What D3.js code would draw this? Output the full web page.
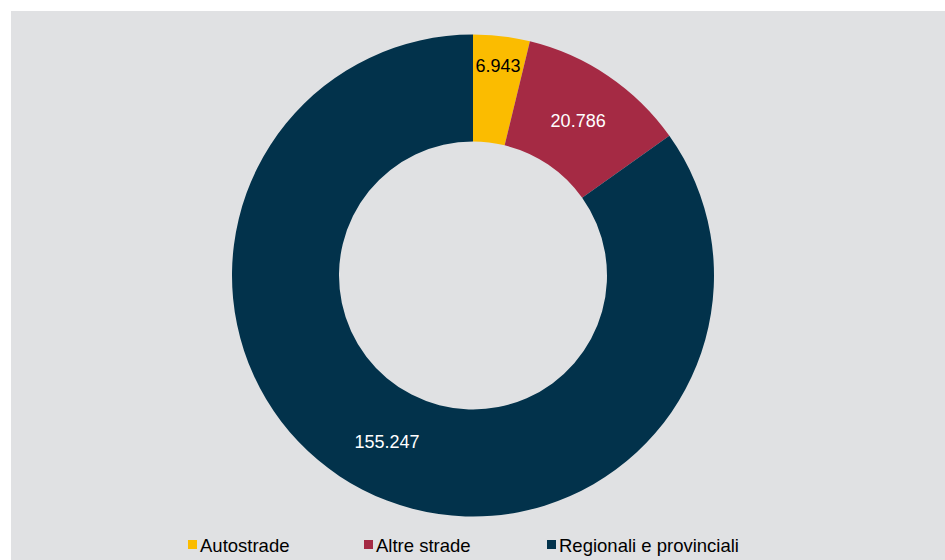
<!DOCTYPE html>
<html>
<head>
<meta charset="utf-8">
<script src="https://cdn.jsdelivr.net/npm/d3@7"></script>
<style>
  body { margin: 0; background: #ffffff; }
  svg { display: block; font-family: "Liberation Sans", Arial, sans-serif; }
</style>
</head>
<body>
<div id="chart"></div>
<script>
// chart data
const categories = ["Autostrade", "Altre strade", "Regionali e provinciali"];
const values = [6.943, 20.786, 155.247];
const valueLabels = ["6.943", "20.786", "155.247"];
const colors = ["#fbbc00", "#a52a44", "#02324b"];
const labelColors = ["#000000", "#ffffff", "#ffffff"];

const width = 945, height = 560;

const svg = d3.select("#chart")
  .append("svg")
  .attr("width", width)
  .attr("height", height);

// gray plot background
svg.append("rect")
  .attr("x", 11)
  .attr("y", 11)
  .attr("width", width - 11)
  .attr("height", height - 11)
  .attr("fill", "#e0e1e3");

const cx = 473, cy = 275.5;
const outerR = 241, innerR = 134;

const pie = d3.pie().sort(null).value((d) => d);
const arcs = pie(values);

const arc = d3.arc().innerRadius(innerR).outerRadius(outerR);

const g = svg.append("g")
  .attr("transform", "translate(" + cx + "," + cy + ")");

g.selectAll("path")
  .data(arcs)
  .join("path")
  .attr("d", arc)
  .attr("fill", (d, i) => colors[i]);

// labels: small slices get pushed towards the outer edge
g.selectAll("text.lbl")
  .data(arcs)
  .join("text")
  .attr("class", "lbl")
  .attr("transform", (d) => {
    const span = d.endAngle - d.startAngle;
    const r = span < 0.4 ? 211 : (innerR + outerR) / 2;
    const a = (d.startAngle + d.endAngle) / 2;
    return "translate(" + (r * Math.sin(a)) + "," + (-r * Math.cos(a)) + ")";
  })
  .attr("text-anchor", "middle")
  .attr("dy", "0.35em")
  .attr("font-size", "18px")
  .attr("fill", (d, i) => labelColors[i])
  .text((d, i) => valueLabels[i]);

// legend
const legendX = [188, 364, 547];
const legend = svg.append("g");
const item = legend.selectAll("g")
  .data(categories)
  .join("g")
  .attr("transform", (d, i) => "translate(" + legendX[i] + ",540)");

item.append("rect")
  .attr("width", 9)
  .attr("height", 9)
  .attr("fill", (d, i) => colors[i]);

item.append("text")
  .attr("x", 12)
  .attr("y", 12)
  .attr("font-size", "18.5px")
  .attr("fill", "#000000")
  .text((d) => d);
</script>
</body>
</html>
